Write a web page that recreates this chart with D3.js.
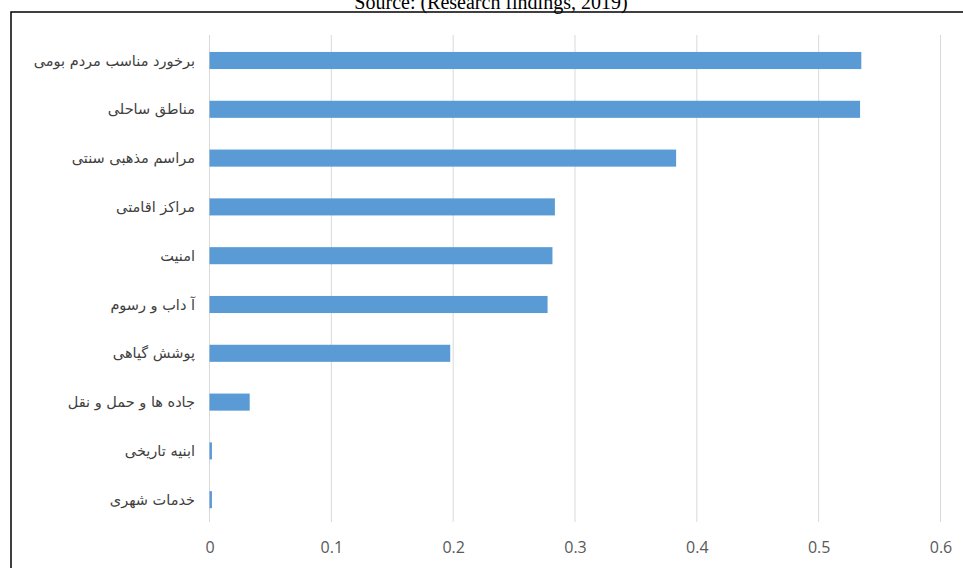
<!DOCTYPE html>
<html>
<head>
<meta charset="utf-8">
<script src="https://cdn.jsdelivr.net/npm/d3@7"></script>
<style>
    body { margin: 0; background: #fff; }
    svg { display: block; }
</style>
</head>
<body>
<div id="chart"></div>
<script>
const categories = [
    "برخورد مناسب مردم بومی", "مناطق ساحلی", "مراسم مذهبی سنتی", "مراکز اقامتی",
    "امنیت", "آ داب و رسوم", "پوشش گیاهی", "جاده ها و حمل و نقل",
    "ابنیه تاریخی", "خدمات شهری"
];
const values = [0.535, 0.534, 0.383, 0.2835, 0.2815, 0.2775, 0.1976, 0.033, 0.002, 0.002];
const ticks = [0, 0.1, 0.2, 0.3, 0.4, 0.5, 0.6];
const sourceText = "Source: (Research findings, 2019)";

const width = 963;
const height = 568;

const svg = d3.select("#chart")
    .append("svg")
    .attr("width", width)
    .attr("height", height);

// title line, partly cut off at the top like the scan
svg.append("text")
    .attr("x", 491)
    .attr("y", 9)
    .style("text-anchor", "middle")
    .style("font-family", "'Liberation Serif', 'Times New Roman', serif")
    .style("font-size", "20px")
    .attr("fill", "#000")
    .text(sourceText);

// frame
svg.append("rect")
    .attr("x", 11)
    .attr("y", 12)
    .attr("width", 980)
    .attr("height", 600)
    .attr("fill", "none")
    .attr("stroke", "#000")
    .attr("stroke-width", 1.5);

const x = d3.scaleLinear()
    .domain([0, 0.6])
    .range([209.5, 940.5]);

const y = d3.scaleBand()
    .domain(categories)
    .range([36.1, 524.1])
    .paddingInner(0.65)
    .paddingOuter(0.325);

// gridlines
svg.append("g")
    .selectAll("line")
    .data(ticks)
    .enter().append("line")
    .attr("x1", d => x(d))
    .attr("x2", d => x(d))
    .attr("y1", 35)
    .attr("y2", 522)
    .attr("stroke", "#d9d9d9")
    .attr("stroke-width", 1);

// bars
svg.append("g")
    .selectAll("rect")
    .data(values)
    .enter().append("rect")
    .attr("x", x(0))
    .attr("y", (d, i) => y(categories[i]))
    .attr("width", d => x(d) - x(0))
    .attr("height", y.bandwidth())
    .attr("fill", "#5b9bd5");

// category labels
svg.append("g")
    .selectAll("text")
    .data(categories)
    .enter().append("text")
    .attr("x", 195)
    .attr("y", d => y(d) + y.bandwidth() / 2)
    .attr("dy", "0.35em")
    .style("text-anchor", "end")
    .style("font-family", "'DejaVu Sans', sans-serif")
    .style("font-size", "14.5px")
    .attr("fill", "#404040")
    .text(d => d);

// x axis
const xAxis = svg.append("g")
    .attr("transform", "translate(0,522)")
    .call(d3.axisBottom(x).tickValues(ticks).tickFormat(d => d === 0 ? "0" : d3.format(".1f")(d)).tickSize(0).tickPadding(20));

xAxis.select(".domain").remove();
xAxis.selectAll("text")
    .style("font-family", "'Liberation Sans Narrow', 'Open Sans', sans-serif")
    .style("font-size", "16px")
    .attr("fill", "#595959");
</script>
</body>
</html>
